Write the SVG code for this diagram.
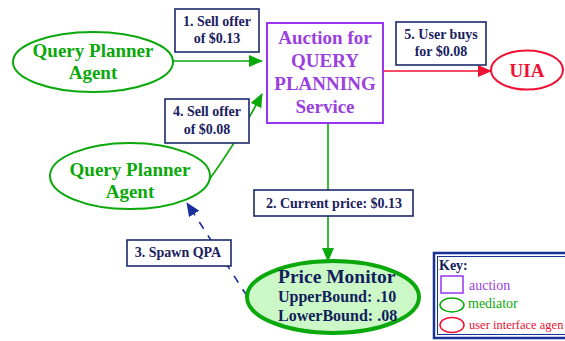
<svg xmlns="http://www.w3.org/2000/svg" width="565" height="341" viewBox="0 0 565 341">
  <style>
    text { font-family: "Liberation Serif", "Times New Roman", serif; }
    .lbl rect { fill: #ffffff; stroke: #1b2a6b; stroke-width: 1.6; }
    .lbl text { fill: #1a2160; font-size: 14px; font-weight: bold; text-anchor: middle; }
    .agent ellipse { fill: #ffffff; stroke: #0aa80a; stroke-width: 2; }
    .agent text { fill: #0aa80a; font-size: 19px; font-weight: bold; text-anchor: middle; }
    .edge { fill: none; stroke-width: 1.6; }
  </style>
  <defs>
    <marker id="ahG" markerUnits="userSpaceOnUse" markerWidth="14" markerHeight="12" refX="13" refY="6" orient="auto">
      <path d="M0,0 L14,6 L0,12 z" fill="#0aa80a"/>
    </marker>
    <marker id="ahR" markerUnits="userSpaceOnUse" markerWidth="14" markerHeight="12" refX="13" refY="6" orient="auto">
      <path d="M0,0 L14,6 L0,12 z" fill="#ee1133"/>
    </marker>
    <marker id="ahB" markerUnits="userSpaceOnUse" markerWidth="14" markerHeight="12" refX="13" refY="6" orient="auto">
      <path d="M0,0 L14,6 L0,12 z" fill="#1a2f99"/>
    </marker>
  </defs>

  <!-- connectors -->
  <g id="connectors">
    <path class="edge" d="M173,61 L262,61" stroke="#0aa80a" marker-end="url(#ahG)"/>
    <path class="edge" d="M209,180 Q238,140 262,94" stroke="#0aa80a" stroke-width="2" marker-end="url(#ahG)"/>
    <path class="edge" d="M383,71 L491,71" stroke="#ee1133" marker-end="url(#ahR)"/>
    <path class="edge" d="M328,123 L328,261" stroke="#0aa80a" marker-end="url(#ahG)"/>
    <path class="edge" d="M247,296 L187,203" stroke="#1a2f99" stroke-dasharray="8,8" marker-end="url(#ahB)"/>
  </g>

  <!-- edge labels -->
  <g id="label1" class="lbl">
    <rect x="175" y="9" width="84" height="43"/>
    <text x="217" y="26">1. Sell offer</text>
    <text x="217" y="43">of $0.13</text>
  </g>
  <g id="label4" class="lbl">
    <rect x="165" y="99" width="84" height="44"/>
    <text x="207" y="116">4. Sell offer</text>
    <text x="207" y="134">of $0.08</text>
  </g>
  <g id="label5" class="lbl">
    <rect x="396" y="22" width="90" height="43"/>
    <text x="441" y="39">5. User buys</text>
    <text x="441" y="56">for $0.08</text>
  </g>
  <g id="label2" class="lbl">
    <rect x="254" y="190" width="159" height="26"/>
    <text x="334" y="208">2. Current price: $0.13</text>
  </g>
  <g id="label3" class="lbl">
    <rect x="127" y="240" width="104" height="26"/>
    <text x="178" y="257">3. Spawn QPA</text>
  </g>

  <!-- nodes -->
  <g id="qpa1" class="agent">
    <ellipse cx="93" cy="62" rx="80" ry="30"/>
    <text x="93" y="57">Query Planner</text>
    <text x="93" y="79">Agent</text>
  </g>
  <g id="qpa2" class="agent">
    <ellipse cx="130" cy="176" rx="80" ry="33"/>
    <text x="130" y="176">Query Planner</text>
    <text x="130" y="198">Agent</text>
  </g>
  <g id="auction">
    <rect x="267" y="23" width="116" height="100" fill="#ffffff" stroke="#9933ee" stroke-width="2"/>
    <g fill="#9a3fe0" font-size="19" font-weight="bold" text-anchor="middle">
      <text x="325" y="44">Auction for</text>
      <text x="325" y="67">QUERY</text>
      <text x="325" y="90">PLANNING</text>
      <text x="325" y="113">Service</text>
    </g>
  </g>
  <g id="uia">
    <ellipse cx="527" cy="70" rx="36" ry="19.5" fill="#ffffff" stroke="#ee1133" stroke-width="2"/>
    <text x="527" y="77" fill="#ee1133" font-size="19" font-weight="bold" text-anchor="middle">UIA</text>
  </g>
  <g id="priceMonitor">
    <ellipse cx="333" cy="297" rx="86" ry="36" fill="#ccf8c8" stroke="#0aa80a" stroke-width="4"/>
    <g fill="#111e5a" font-weight="bold">
      <text x="278" y="283" font-size="19.5">Price Monitor</text>
      <text x="278" y="302" font-size="16">UpperBound: .10</text>
      <text x="278" y="321" font-size="16">LowerBound: .08</text>
    </g>
  </g>

  <!-- legend -->
  <g id="key">
    <rect x="434" y="253" width="140" height="85" fill="#ffffff" stroke="#1a3399" stroke-width="2.5"/>
    <rect x="437.5" y="256.5" width="140" height="78" fill="none" stroke="#1a3399" stroke-width="1"/>
    <text x="439" y="270" fill="#111e5a" font-size="14" font-weight="bold">Key:</text>
    <rect x="441" y="276" width="22" height="17" fill="none" stroke="#9933ee" stroke-width="1.5"/>
    <text x="469" y="290" fill="#9a3fe0" font-size="14">auction</text>
    <ellipse cx="452" cy="305" rx="12" ry="7" fill="none" stroke="#0aa80a" stroke-width="1.5"/>
    <text x="468" y="308" fill="#0aa80a" font-size="14">mediator</text>
    <ellipse cx="452" cy="325" rx="12" ry="7.5" fill="none" stroke="#ee1133" stroke-width="1.5"/>
    <text x="469" y="329" fill="#ee1133" font-size="12.5">user interface agen</text>
  </g>
</svg>
